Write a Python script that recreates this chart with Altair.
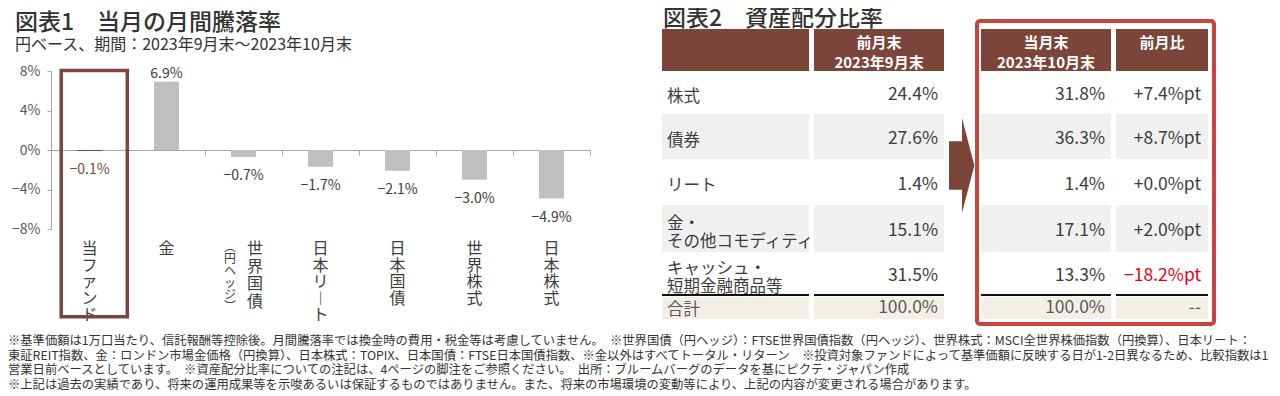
import altair as alt
import pandas as pd

# ---------------- data ----------------
title1 = "図表1　当月の月間騰落率"
subtitle1 = "円ベース、期間：2023年9月末～2023年10月末"
bar_categories = ["当ファンド", "金", "世界国債（円ヘッジ）", "日本リート", "日本国債", "世界株式", "日本株式"]
bar_values = [-0.1, 6.9, -0.7, -1.7, -2.1, -3.0, -4.9]
highlight_category = "当ファンド"
y_tick_values = [-8, -4, 0, 4, 8]

title2 = "図表2　資産配分比率"
assets = ["株式", "債券", "リート", "金・\nその他コモディティ", "キャッシュ・\n短期金融商品等"]
prev_month = [24.4, 27.6, 1.4, 15.1, 31.5]
curr_month = [31.8, 36.3, 1.4, 17.1, 13.3]
change_pt = [7.4, 8.7, 0.0, 2.0, -18.2]
headers = ["", "前月末\n2023年9月末", "当月末\n2023年10月末", "前月比"]
total_row = ["合計", "100.0%", "100.0%", "--"]

footnotes = [
    "※基準価額は1万口当たり、信託報酬等控除後。月間騰落率では換金時の費用・税金等は考慮していません。　※世界国債（円ヘッジ）：FTSE世界国債指数（円ヘッジ）、世界株式：MSCI全世界株価指数（円換算）、日本リート：",
    "東証REIT指数、金：ロンドン市場金価格（円換算）、日本株式：TOPIX、日本国債：FTSE日本国債指数、※金以外はすべてトータル・リターン　※投資対象ファンドによって基準価額に反映する日が1-2日異なるため、比較指数は1",
    "営業日前ベースとしています。　※資産配分比率についての注記は、4ページの脚注をご参照ください。　出所：ブルームバーグのデータを基にピクテ・ジャパン作成",
    "※上記は過去の実績であり、将来の運用成果等を示唆あるいは保証するものではありません。また、将来の市場環境の変動等により、上記の内容が変更される場合があります。",
]

# ---------------- style / layout (page pixels) ----------------
FONT = "Noto Sans CJK JP"
BROWN = "#7B4539"
RED_BOX = "#C8453D"
RED_TEXT = "#E60012"
BAR_GRAY = "#BFBFBF"
CELL_GRAY = "#F0F0F0"
CELL_BEIGE = "#F3EEE6"
AXIS_GRAY = "#A6A6A6"
INK = "#3C3C3C"
LIGHT_INK = "#595959"

W, H = 1264, 388
M = 8  # page margin; layout constants below are page coordinates


def mid(y, fs, text="", lh=0):
    """chart y for the first line of a 'middle'-baseline text whose block is centred at page y"""
    n = text.count("\n") + 1
    return y - M + 0.07 * fs - (n - 1) * lh / 2


COLS = [(662, 809), (814, 944), (981, 1111), (1116, 1208)]
HEADER_Y = (29, 71)
ROW_EDGES = [71, 114, 159, 205, 252, 295]
SHADED_ROWS = {1, 3}
RULE_Y = (294, 296)
TOTAL_Y = (297, 319)
LABEL_X = 667
VALUE_RIGHT = [None, 938, 1105, 1201]

# ---------------- figure 1: bars ----------------
def to_vertical(s):
    return "\n".join(s.replace("ー", "︱").replace("（", "︵").replace("）", "︶"))

main_col, sub_col = [], []
for c in bar_categories:
    if "（" in c:
        a, b = c.split("（", 1)
        main_col.append(to_vertical(a))
        sub_col.append(to_vertical("（" + b))
    else:
        main_col.append(to_vertical(c))
        sub_col.append("")

bars = pd.DataFrame({"cat": bar_categories, "v": bar_values, "main": main_col, "sub": sub_col})
bars["two"] = [s != "" for s in sub_col]
bars["hl"] = [c == highlight_category for c in bar_categories]

x_scale = alt.Scale(domain=bar_categories, range=[51 - M, 590 - M], paddingInner=0, paddingOuter=0)
y_scale = alt.Scale(domain=[-8, 8], range=[229 - M, 71 - M], nice=False, zero=False)
x_axis = alt.Axis(orient="bottom", offset=-(H - (150 - M)), tickBand="extent", labels=False,
                  title=None, grid=False, domainColor=AXIS_GRAY, tickColor=AXIS_GRAY, tickSize=5)
y_axis = alt.Axis(orient="left", offset=-(51 - M), values=y_tick_values, format=".0f",
                  labelExpr="datum.label + '%'", title=None, grid=False,
                  domainColor=AXIS_GRAY, tickColor=AXIS_GRAY, tickSize=4, labelPadding=7,
                  labelFont=FONT, labelFontSize=14, labelColor=LIGHT_INK)
X = alt.X("cat:N", sort=bar_categories, scale=x_scale, axis=x_axis)
Y = alt.Y("v:Q", scale=y_scale, axis=y_axis)

base = alt.Chart(bars)
bar = base.mark_bar(size=25).encode(
    x=X, y=Y, y2=alt.Y2(datum=0),
    color=alt.condition(alt.datum.hl, alt.value(BROWN), alt.value(BAR_GRAY)),
)
lbl = base.transform_calculate(lbl="format(datum.v, '.1f') + '%'")
lbl_color = alt.condition(alt.datum.hl, alt.value(BROWN), alt.value(INK))
pos_lbl = lbl.transform_filter("datum.v >= 0").mark_text(
    dy=-8, baseline="middle", font=FONT, fontSize=14).encode(x=X, y=Y, text="lbl:N", color=lbl_color)
neg_lbl = lbl.transform_filter("datum.v < 0").mark_text(
    dy=19.5, baseline="middle", font=FONT, fontSize=14).encode(x=X, y=Y, text="lbl:N", color=lbl_color)

cat_single = base.transform_filter("!datum.two").mark_text(
    baseline="top", align="center", font=FONT, fontSize=16, lineHeight=16.5, lineBreak="\n", color=INK
).encode(x=X, y=alt.value(233), text="main:N")
cat_main2 = base.transform_filter("datum.two").mark_text(
    baseline="top", align="center", dx=11.5, font=FONT, fontSize=16, lineHeight=17.5, lineBreak="\n", color=INK
).encode(x=X, y=alt.value(233), text="main:N")
cat_sub = base.transform_filter("datum.two").mark_text(
    baseline="top", align="center", dx=-13.5, font=FONT, fontSize=12, lineHeight=12, lineBreak="\n", color=INK
).encode(x=X, y=alt.value(234), text="sub:N")

bar_group = alt.layer(bar, pos_lbl, neg_lbl, cat_single, cat_main2, cat_sub)

# ---------------- figure 2: table + decorations ----------------
PX = alt.Scale(domain=[0, W], range=[0, W])
PY = alt.Scale(domain=[0, H], range=[0, H])


def XX(f):
    return alt.X(f + ":Q", scale=PX, axis=None)


def YY(f):
    return alt.Y(f + ":Q", scale=PY, axis=None)


cells = []
for (x1, x2) in COLS:
    cells.append(dict(x=x1 - M, x2=x2 - M, y=HEADER_Y[0] - M, y2=HEADER_Y[1] - M, fill=BROWN))
    for r in SHADED_ROWS:
        cells.append(dict(x=x1 - M, x2=x2 - M, y=ROW_EDGES[r] - M, y2=ROW_EDGES[r + 1] - M, fill=CELL_GRAY))
    cells.append(dict(x=x1 - M, x2=x2 - M, y=RULE_Y[0] - M, y2=RULE_Y[1] - M, fill="#111111"))
    cells.append(dict(x=x1 - M, x2=x2 - M, y=TOTAL_Y[0] - M, y2=TOTAL_Y[1] - M, fill=CELL_BEIGE))
cells_df = pd.DataFrame(cells)
cell_layer = alt.Chart(cells_df).mark_rect().encode(
    x=XX("x"), x2="x2:Q", y=YY("y"), y2="y2:Q", color=alt.Color("fill:N", scale=None))

# header texts
hdr = []
for i, h in enumerate(headers):
    if not h:
        continue
    x1, x2 = COLS[i]
    ty = 52 if "\n" in h else 42
    hdr.append(dict(x=(x1 + x2) / 2 - M, y=mid(ty, 15, h, 20), text=h))
hdr_layer = alt.Chart(pd.DataFrame(hdr)).mark_text(
    align="center", baseline="middle", font=FONT, fontSize=15, fontWeight="bold",
    lineHeight=20, lineBreak="\n", color="white").encode(x=XX("x"), y=YY("y"), text="text:N")

# row labels
row_centers = [(ROW_EDGES[i] + ROW_EDGES[i + 1]) / 2 for i in range(len(assets))]
total_center = (TOTAL_Y[0] + TOTAL_Y[1]) / 2
labels = [dict(x=LABEL_X - M, y=mid(c + 3, 16.5, a, 18), text=a, color=INK, size=16.5)
          for a, c in zip(assets, row_centers)]
labels.append(dict(x=LABEL_X - M, y=mid(total_center + 1, 16.5), text=total_row[0], color=LIGHT_INK, size=16.5))
label_layer = alt.Chart(pd.DataFrame(labels)).mark_text(
    align="left", baseline="middle", font=FONT, lineHeight=18, lineBreak="\n").encode(
    x=XX("x"), y=YY("y"), text="text:N",
    color=alt.Color("color:N", scale=None), size=alt.Size("size:Q", scale=None))

# values
vals = []
for i, c in enumerate(row_centers):
    y = mid(c + 1.5, 17.5)
    vals.append(dict(x=VALUE_RIGHT[1] - M, y=y, text=f"{prev_month[i]:.1f}%", color=INK))
    vals.append(dict(x=VALUE_RIGHT[2] - M, y=y, text=f"{curr_month[i]:.1f}%", color=INK))
    vals.append(dict(x=VALUE_RIGHT[3] - M, y=y, text=f"{change_pt[i]:+.1f}%pt".replace("-", "−"),
                     color=RED_TEXT if change_pt[i] < 0 else INK))
for j in (1, 2, 3):
    vals.append(dict(x=VALUE_RIGHT[j] - M, y=mid(total_center - 1, 17.5), text=total_row[j], color=LIGHT_INK))
value_layer = alt.Chart(pd.DataFrame(vals)).mark_text(
    align="right", baseline="middle", font=FONT, fontSize=17.5).encode(
    x=XX("x"), y=YY("y"), text="text:N", color=alt.Color("color:N", scale=None))

# titles and footnotes
titles = [
    dict(x=15 - M, y=mid(21, 23), text=title1, size=23),
    dict(x=663 - M, y=mid(17.5, 23), text=title2, size=23),
]
title_layer = alt.Chart(pd.DataFrame(titles)).mark_text(
    align="left", baseline="middle", font=FONT, fontWeight=500, color="#333333").encode(
    x=XX("x"), y=YY("y"), text="text:N", size=alt.Size("size:Q", scale=None))

texts = [dict(x=15 - M, y=mid(43.5, 16), text=subtitle1, size=16)]
for k, line in enumerate(footnotes):
    texts.append(dict(x=8 - M, y=mid(340 + 14.7 * k, 12.3), text=line, size=12.3))
text_layer = alt.Chart(pd.DataFrame(texts)).mark_text(
    align="left", baseline="middle", font=FONT, color="#333333").encode(
    x=XX("x"), y=YY("y"), text="text:N", size=alt.Size("size:Q", scale=None))

# decorations
fund_box = alt.Chart(pd.DataFrame([dict(x=61.2 - M, x2=127.3 - M, y=70.5 - M, y2=316.7 - M)])).mark_rect(
    fillOpacity=0, stroke=BROWN, strokeWidth=3.5).encode(x=XX("x"), x2="x2:Q", y=YY("y"), y2="y2:Q")
red_box = alt.Chart(pd.DataFrame([dict(x=977 - M, x2=1214 - M, y=21 - M, y2=324 - M)])).mark_rect(
    fillOpacity=0, stroke=RED_BOX, strokeWidth=4, cornerRadius=3).encode(
    x=XX("x"), x2="x2:Q", y=YY("y"), y2="y2:Q")
ARROW = "M-0.274,-0.51L0,-0.51L0,-1L0.26,0L0,1L0,0.51L-0.274,0.51Z"
arrow = alt.Chart(pd.DataFrame([dict(x=962 - M, y=165.5 - M)])).mark_point(
    shape=ARROW, size=95 * 95, filled=True, fill=BROWN, opacity=1, strokeWidth=0).encode(
    x=XX("x"), y=YY("y"))

px_group = alt.layer(cell_layer, hdr_layer, label_layer, value_layer, title_layer, text_layer,
                     fund_box, arrow, red_box)

chart = (
    alt.layer(bar_group, px_group)
    .resolve_scale(x="independent", y="independent", color="independent", size="independent")
    .properties(width=W, height=H, padding=0, autosize=alt.AutoSizeParams(type="none"), background="white")
    .configure(font=FONT)
    .configure_view(stroke=None)
)

chart.save("out.html", embed_options={"renderer": "svg", "actions": False})
